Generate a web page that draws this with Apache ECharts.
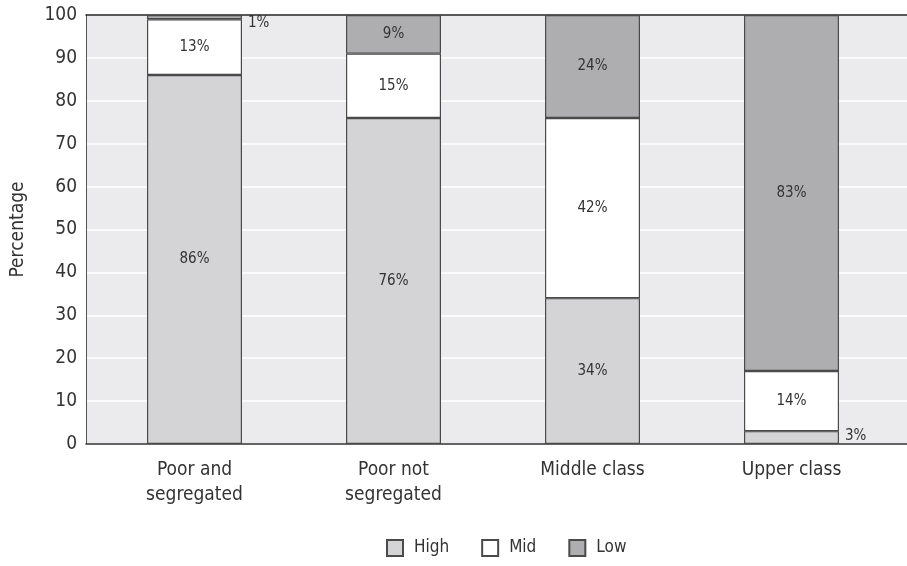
<!DOCTYPE html>
<html>
<head>
<meta charset="utf-8">
<script src="https://cdn.jsdelivr.net/npm/echarts@6/dist/echarts.min.js"></script>
<style>
html,body{margin:0;padding:0;background:#fff;}
#chart{width:907px;height:566px;}
</style>
</head>
<body>
<div id="chart"></div>
<script>
var categories=['Poor and\nsegregated','Poor not\nsegregated','Middle class','Upper class'];
var high=[86,76,34,3];
var mid=[13,15,42,14];
var low=[1,9,24,83];
var yTicks=[0,10,20,30,40,50,60,70,80,90,100];

var font='"DejaVu Sans Condensed",sans-serif';
var txt='#333';

var lowOut=[0];
var highOut=[3];
function seg(values,outside,off){
    // small slices get their label to the right of the bar
    return values.map(function(v,i){
        if(outside.indexOf(i)>=0){
            return {value:v,label:{position:'right',distance:6,offset:off}};
        }
        return v;
    });
}

var barStyle=function(c){
    return {color:c,borderColor:'#4a4a4a',borderWidth:1.2};
};
var lab={show:true,position:'inside',color:txt,fontFamily:font,fontSize:15,formatter:'{c}%'};

var Chart=echarts.init(document.getElementById('chart'));
var option={
    animation:false,
    textStyle:{fontFamily:font},
    grid:[
        {left:86,right:0,top:15,bottom:122,show:true,backgroundColor:'#ebebed',borderWidth:0,outerBoundsMode:'none',containLabel:false},
        {left:95,right:16,top:15,bottom:122,outerBoundsMode:'none',containLabel:false}
    ],
    xAxis:[
        {gridIndex:0,type:'value',min:0,max:1,show:true,axisLine:{show:true,lineStyle:{color:'#333',width:1.5}},
         axisTick:{show:false},axisLabel:{show:false},splitLine:{show:false}},
        {gridIndex:0,type:'value',position:'top',min:0,max:1,axisLine:{show:true,lineStyle:{color:'#222',width:1.5}},
         axisTick:{show:false},axisLabel:{show:false},splitLine:{show:false}},
        {gridIndex:1,type:'category',data:categories,axisLine:{show:false},axisTick:{show:false},
         axisLabel:{color:txt,fontFamily:font,fontSize:19,lineHeight:25,margin:14}}
    ],
    yAxis:[
        {gridIndex:0,type:'value',min:0,max:100,interval:10,
         name:'Percentage',nameLocation:'middle',nameGap:58,nameRotate:90,
         nameTextStyle:{color:txt,fontFamily:font,fontSize:19},
         axisLine:{show:true,lineStyle:{color:'#555',width:1}},axisTick:{show:false},
         axisLabel:{color:txt,fontFamily:font,fontSize:19,margin:9,
            formatter:function(v){return yTicks.indexOf(v)>=0?v:'';}},
         splitLine:{show:true,lineStyle:{color:'#fff',width:1.5}}},
        {gridIndex:1,type:'value',min:0,max:100,show:false}
    ],
    legend:{
        bottom:9,left:386,padding:0,itemWidth:16,itemHeight:16,itemGap:32,
        icon:'rect',
        textStyle:{color:txt,fontFamily:font,fontSize:17,padding:[0,0,0,6]},
        data:['High','Mid','Low']
    },
    series:[
        {name:'High',type:'bar',stack:'a',xAxisIndex:2,yAxisIndex:1,barWidth:95,
         itemStyle:barStyle('#d4d4d6'),label:lab,data:seg(high,highOut,[0,-1])},
        {name:'Mid',type:'bar',stack:'a',xAxisIndex:2,yAxisIndex:1,barWidth:95,
         itemStyle:barStyle('#ffffff'),label:lab,data:mid},
        {name:'Low',type:'bar',stack:'a',xAxisIndex:2,yAxisIndex:1,barWidth:95,
         itemStyle:barStyle('#aeaeb0'),label:lab,data:seg(low,lowOut,[0,6])}
    ]
};
Chart.setOption(option);
</script>
</body>
</html>
